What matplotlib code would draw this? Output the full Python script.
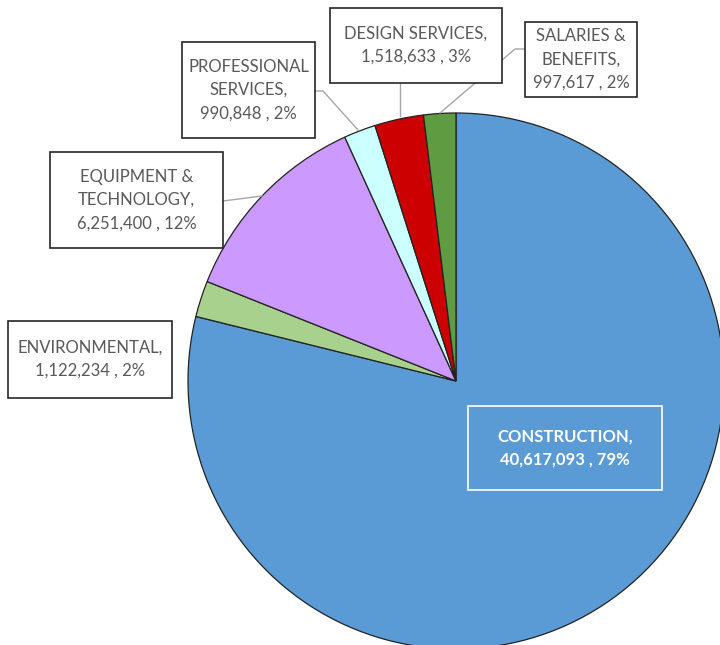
import matplotlib.pyplot as plt
from matplotlib.patches import Rectangle

# data
categories = ["CONSTRUCTION", "ENVIRONMENTAL", "EQUIPMENT &\nTECHNOLOGY",
              "PROFESSIONAL\nSERVICES", "DESIGN SERVICES", "SALARIES &\nBENEFITS"]
values = [40617093, 1122234, 6251400, 990848, 1518633, 997617]
colors = ["#5B9BD5", "#A9D18E", "#CC99FF", "#CCFFFF", "#CC0000", "#5E9B41"]

W, H = 720, 645
plt.rcParams['font.family'] = ['Lato', 'DejaVu Sans']

fig = plt.figure(figsize=(W / 100, H / 100), dpi=100)
ax = fig.add_axes([0, 0, 1, 1])

cx, cy, r = 456, H - 381, 268
ax.pie(values, colors=colors, startangle=90, counterclock=False,
       center=(cx, cy), radius=r,
       wedgeprops=dict(edgecolor='#222222', linewidth=0.9))
ax.set_xlim(0, W)
ax.set_ylim(0, H)
ax.set_aspect('equal')
ax.axis('off')

total = sum(values)
labels = [f"{c},\n{v:,} , {round(v / total * 100)}%" for c, v in zip(categories, values)]

# label boxes in pixel coords: (x0, y0, x1, y1)
boxes = [(468, 406, 662, 490), (8, 321, 172, 398), (50, 152, 223, 248),
         (182, 42, 315, 138), (330, 8, 502, 83), (525, 22, 637, 97)]
# leader lines in pixel coords
leaders = [None, None,
           [(223, 201), (262, 196)],
           [(315, 91), (323, 91), (358, 130)],
           [(400, 83), (400, 116)],
           [(525, 49), (515, 49), (440, 113)]]

for i, (lab, (x0, y0, x1, y1)) in enumerate(zip(labels, boxes)):
    inside = i == 0
    ec = 'white' if inside else '#262626'
    fc = 'none' if inside else 'white'
    ax.add_patch(Rectangle((x0, H - y1), x1 - x0, y1 - y0, facecolor=fc,
                           edgecolor=ec, linewidth=1.2, zorder=5))
    ax.text((x0 + x1) / 2, H - (y0 + y1) / 2, lab, ha='center', va='center',
            fontsize=12, color='white' if inside else '#595959',
            fontweight='bold' if inside else 'normal',
            linespacing=1.55, zorder=6)
    if leaders[i]:
        xs = [p[0] for p in leaders[i]]
        ys = [H - p[1] for p in leaders[i]]
        ax.plot(xs, ys, color='#A6A6A6', linewidth=1, zorder=4)

fig.savefig('out.png', dpi=100)
